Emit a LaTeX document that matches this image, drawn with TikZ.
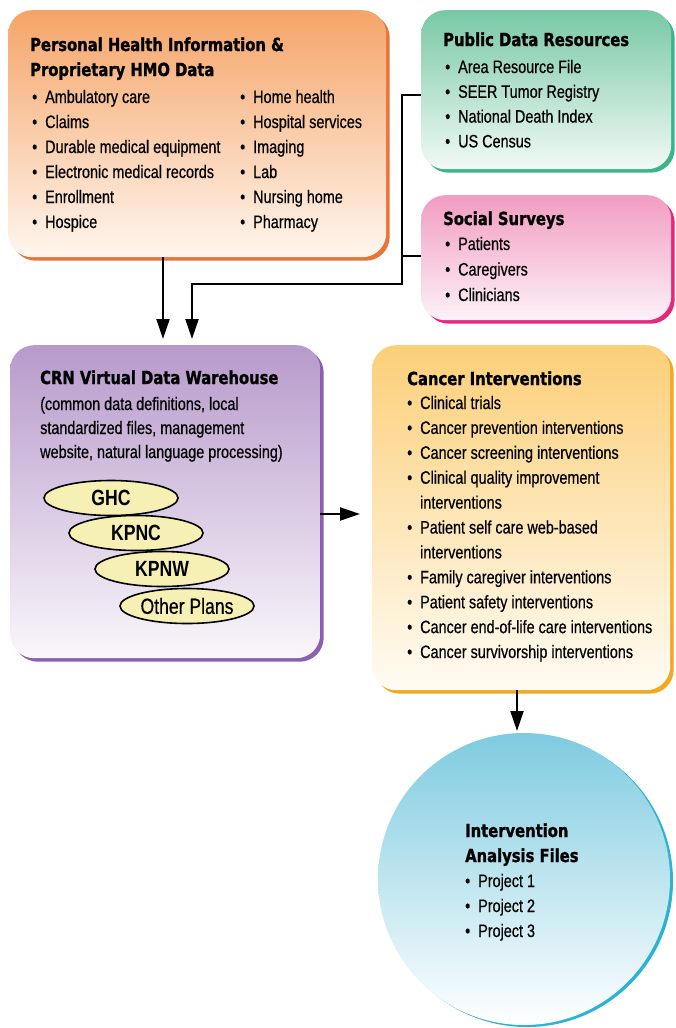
\documentclass[tikz,border=0pt]{standalone}
\usepackage{fontspec}
\setmainfont{Liberation Sans}[FakeStretch=0.8, UprightFeatures={FakeBold=0.5}]
\newfontfamily\titlefam{DejaVu Sans}[FakeStretch=0.82, BoldFeatures={FakeBold=1.2}]
\usetikzlibrary{arrows.meta,shadows,shapes.geometric}

% box colours: top of the shading, bottom of it, and the edge
\definecolor{phiTop}{HTML}{F5A468}
\definecolor{phiBot}{HTML}{FFF6EE}
\definecolor{phiEdge}{HTML}{E8743A}
\definecolor{pdrTop}{HTML}{78C8A5}
\definecolor{pdrBot}{HTML}{F2FAF6}
\definecolor{pdrEdge}{HTML}{3DB58A}
\definecolor{ssTop}{HTML}{F29CC2}
\definecolor{ssBot}{HTML}{FDF2F7}
\definecolor{ssEdge}{HTML}{E3287E}
\definecolor{cvdwTop}{HTML}{B79ACB}
\definecolor{cvdwBot}{HTML}{FAF7FB}
\definecolor{cvdwEdge}{HTML}{8B5FB2}
\definecolor{cancTop}{HTML}{FBCF78}
\definecolor{cancBot}{HTML}{FFFCF4}
\definecolor{cancEdge}{HTML}{F2A922}
\definecolor{iafTop}{HTML}{7ECBE0}
\definecolor{iafBot}{HTML}{FFFFFF}
\definecolor{iafEdge}{HTML}{2CB3D3}
\definecolor{planFill}{HTML}{F6F0B5}

\newcommand\bul{\makebox[13pt][l]{\textbullet}}
\newcommand\bullead[1]{\ifnum#1=1 \bul\else\hspace*{13pt}\fi}

\tikzset{
  box/.style={rounded corners=24pt, anchor=north west, inner sep=0pt,
    top color=#1Top, bottom color=#1Bot,
    drop shadow={shadow xshift=3.5pt, shadow yshift=-3.5pt, fill=#1Edge, opacity=1}},
  title/.style={anchor=base west, inner sep=0pt, font=\titlefam\bfseries\fontsize{18}{25}\selectfont},
  item/.style={anchor=base west, inner sep=0pt, font=\fontsize{18}{25}\selectfont},
  plan/.style={ellipse, draw, line width=1.6pt, fill=planFill, inner sep=0pt,
    minimum width=134pt, minimum height=35pt, font=\bfseries\fontsize{22}{25}\selectfont},
  wire/.style={line width=2pt},
  arrow/.style={wire, -{Triangle[length=20pt,width=13pt]}}
}

\begin{document}
\begin{tikzpicture}[x=1pt,y=-1pt]
\useasboundingbox (0,0) rectangle (675,1028);

% sources
\node[box=phi, minimum width=378pt, minimum height=247pt] (phi) at (8,10) {};
\node[title] (phiT1) at (30,51) {Personal Health Information \&};
\node[title] (phiT2) at (30,76) {Proprietary HMO Data};
\foreach \txt [count=\i from 0] in {Ambulatory care,Claims,Durable medical equipment,Electronic medical records,Enrollment,Hospice}
  \node[item] (phiA\i) at (32,103+25*\i) {\bul\txt};
\foreach \txt [count=\i from 0] in {Home health,Hospital services,Imaging,Lab,Nursing home,Pharmacy}
  \node[item] (phiB\i) at (240,103+25*\i) {\bul\txt};

\node[box=pdr, minimum width=250pt, minimum height=159pt] (pdr) at (421,10) {};
\node[title] (pdrT) at (443,46) {Public Data Resources};
\foreach \txt [count=\i from 0] in {Area Resource File,SEER Tumor Registry,National Death Index,US Census}
  \node[item] (pdr\i) at (445,73+24.8*\i) {\bul\txt};

\node[box=ss, minimum width=250pt, minimum height=125pt] (ss) at (421,195) {};
\node[title] (ssT) at (443,225) {Social Surveys};
\foreach \txt [count=\i from 0] in {Patients,Caregivers,Clinicians}
  \node[item] (ss\i) at (445,250+25.5*\i) {\bul\txt};

% warehouse
\node[box=cvdw, minimum width=310pt, minimum height=313pt] (cvdw) at (10,345) {};
\node[title] (cvdwT) at (40,384) {CRN Virtual Data Warehouse};
\foreach \txt [count=\i from 0] in {{(common data definitions, local},{standardized files, management},{website, natural language processing)}}
  \node[item] (cvdw\i) at (40,410+24*\i) {\txt};
\node[plan] (ghc) at (111,498) {GHC};
\node[plan] (kpnc) at (136,533) {KPNC};
\node[plan] (kpnw) at (162,569) {KPNW};
\node[plan, font=\fontsize{22}{25}\selectfont] (other) at (187,606) {Other Plans};

% interventions
\node[box=canc, minimum width=298pt, minimum height=345pt] (canc) at (372,345) {};
\node[title] (cancT) at (407,385) {Cancer Interventions};
\foreach \b/\txt [count=\i from 0] in {1/Clinical trials,1/Cancer prevention interventions,1/Cancer screening interventions,1/Clinical quality improvement,0/interventions,1/Patient self care web-based,0/interventions,1/Family caregiver interventions,1/Patient safety interventions,1/Cancer end-of-life care interventions,1/Cancer survivorship interventions}
  \node[item] (canc\i) at (407,409+24.9*\i) {\bullead{\b}\txt};

% analysis files
\node[circle, minimum size=292pt, inner sep=0pt, top color=iafTop, bottom color=iafBot,
  drop shadow={shadow xshift=3pt, shadow yshift=-2pt, fill=iafEdge, opacity=1}] (iaf) at (524,879) {};
\node[title] (iafT1) at (465,837) {Intervention};
\node[title] (iafT2) at (465,862) {Analysis Files};
\foreach \txt [count=\i from 0] in {Project 1,Project 2,Project 3}
  \node[item] (iaf\i) at (465,887+25*\i) {\bul\txt};

% connectors
\coordinate (cvdwInA) at (163,339);
\coordinate (cvdwInB) at (192,339);
\coordinate (busTop) at (402,95);
\coordinate (busMid) at (402,256);
\coordinate (busBot) at (402,284);
\coordinate (cancIn) at (360,514);
\coordinate (iafIn) at (517,731);
\draw[arrow] (phi.south -| cvdwInA) -- (cvdwInA);
\draw[arrow] (busTop -| pdr.west) -- (busTop) -- (busBot) -| (cvdwInB);
\draw[wire] (busMid -| ss.west) -- (busMid);
\draw[arrow] (cvdw.east |- cancIn) -- (cancIn);
\draw[arrow] (canc.south -| iafIn) -- (iafIn);
\end{tikzpicture}
\end{document}
